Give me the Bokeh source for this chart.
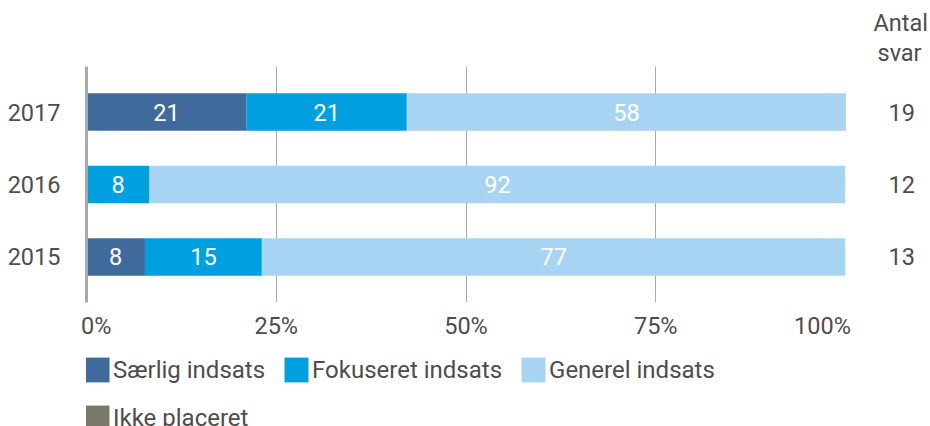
from bokeh.plotting import figure
from bokeh.layouts import column
from bokeh.models import (FactorRange, Range1d, Legend, LegendItem, Title,
                          CategoricalAxis, FixedTicker, ColumnDataSource)
from bokeh.embed import file_html
from bokeh.resources import INLINE
from bokeh.core.properties import value

# ---- data (percent of answers) ----
years = ["2015", "2016", "2017"]
saerlig = [7.7, 0, 21.1]
fokuseret = [15.4, 8.3, 21.1]
generel = [76.9, 91.7, 57.9]
ikke_placeret = [0, 0, 0]
antal_svar = ["13", "12", "19"]
antal_title = ["Antal", "svar"]
series_names = ["Særlig indsats", "Fokuseret indsats", "Generel indsats", "Ikke placeret"]
colors = ["#3F6A9B", "#009FE0", "#A8D4F4", "#7A7A66"]
x_ticks = [0, 25, 50, 75, 100]
x_tick_labels = ["\u2007\u20080%", "25%", "50%", "75%", "100%\u2007\u2007\u2007\u2008"]

FONT = "Roboto"
FS = "23.5px"
LFS = "24px"
TXT = "#4D4D4D"
GRID = "#A9A9A9"
W = 930
MAIN_H = 345
LEG_H = 426 - MAIN_H

keys = ["s", "f", "g", "i"]
series = [saerlig, fokuseret, generel, ikke_placeret]
src = ColumnDataSource(dict(years=years, **{k: v for k, v in zip(keys, series)}))

pad = 0.128
p = figure(width=W, height=MAIN_H, output_backend="svg", toolbar_location=None,
           title=None,
           y_range=FactorRange(*years, range_padding=pad, range_padding_units="absolute"),
           x_range=Range1d(0, 100),
           min_border_left=86, min_border_right=85, min_border_top=66,
           min_border_bottom=MAIN_H - 302, outline_line_color=None)

rends = p.hbar_stack(keys, y="years", height=0.52, color=colors, line_color=None,
                     source=src)

# segment labels (rounded percentages)
lx, ly, lt = [], [], []
for i, y in enumerate(years):
    left = 0
    for vals in series:
        v = vals[i]
        if v > 0:
            lx.append(left + v / 2)
            ly.append(y)
            lt.append(str(int(round(v))))
        left += v
p.text(x="x", y="y", text="t", source=ColumnDataSource(dict(x=lx, y=ly, t=lt)),
       text_color="white", text_align="center", text_baseline="middle",
       text_font=value(FONT), text_font_size=FS)

# x axis
xa = p.xaxis[0]
xa.ticker = FixedTicker(ticks=x_ticks)
xa.major_label_overrides = {t: l for t, l in zip(x_ticks, x_tick_labels)}
xa.axis_line_color = None
xa.major_tick_line_color = None
xa.minor_tick_line_color = None
xa.major_label_standoff = 3
xa.major_label_text_font = FONT
xa.major_label_text_font_size = FS
xa.major_label_text_color = TXT

p.xgrid.ticker = FixedTicker(ticks=x_ticks)
p.xgrid.grid_line_color = GRID
p.ygrid.grid_line_color = None

# left axis
ya = p.yaxis[0]
ya.axis_line_color = GRID
ya.axis_line_width = 3
ya.major_tick_line_color = None
ya.minor_tick_line_color = None
ya.major_label_standoff = 20
ya.major_label_text_font = FONT
ya.major_label_text_font_size = FS
ya.major_label_text_color = TXT

# right axis: number of answers
p.extra_y_ranges = {"r": FactorRange(*antal_svar, range_padding=pad,
                                     range_padding_units="absolute")}
ra = CategoricalAxis(y_range_name="r")
ra.axis_line_color = None
ra.major_tick_line_color = None
ra.minor_tick_line_color = None
ra.major_label_standoff = 37
ra.major_label_text_font = FONT
ra.major_label_text_font_size = FS
ra.major_label_text_color = TXT
p.add_layout(ra, "right")

for txt, off in [(antal_title[1], 791), (antal_title[0], 787)]:
    p.add_layout(Title(text=txt, align="left", offset=off, standoff=0,
                       vertical_align="bottom",
                       text_font=FONT, text_font_size=FS, text_font_style="normal",
                       text_color=TXT), "above")

# legend figure (below the chart), frame aligned with the chart's frame
lf = figure(width=W, height=LEG_H, output_backend="svg", toolbar_location=None,
            title=None, x_axis_location=None, y_axis_location=None,
            x_range=Range1d(0, 100), y_range=Range1d(0, 1),
            min_border_left=0, min_border_right=0, min_border_top=0,
            min_border_bottom=0, outline_line_color=None)
lf.grid.visible = False
# legend-only proxy glyphs (zero width, outside the visible range)
proxy_src = ColumnDataSource(dict(y=[-5], l=[0], r=[0]))
proxies = [lf.hbar(y="y", left="l", right="r", height=0.5, color=c, line_color=None,
                   source=proxy_src) for c in colors]

GW, GH = 30, 31   # legend glyph box (drawn with a 10% inset)

def make_legend(idx, top):
    lg = Legend(items=[LegendItem(label=series_names[i], renderers=[proxies[i]]) for i in idx],
                orientation="horizontal", location=(-4, LEG_H - top - GH), padding=0,
                margin=0, spacing=16, label_standoff=1, glyph_width=GW, glyph_height=GH,
                label_height=25, border_line_color=None, background_fill_alpha=0,
                label_text_font=FONT, label_text_font_size=LFS, label_text_color=TXT)
    lf.add_layout(lg, "center")

make_legend([0, 1, 2], 354 - MAIN_H)
make_legend([3], 402 - MAIN_H)

open("out.html", "w").write(file_html(column(p, lf, spacing=0), INLINE))
